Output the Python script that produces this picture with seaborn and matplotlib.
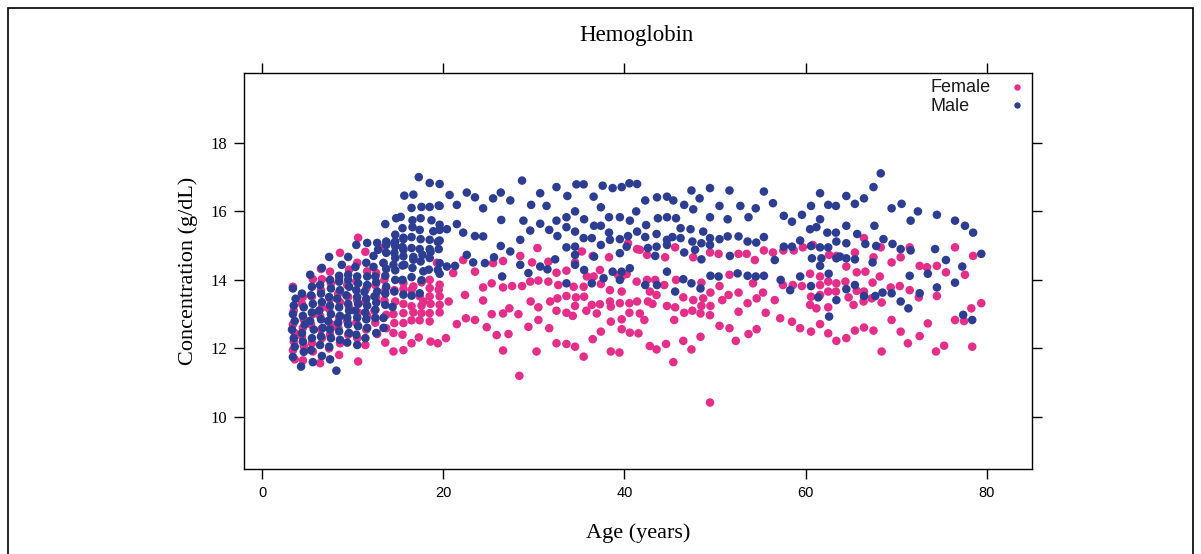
import matplotlib
matplotlib.use("Agg")
import matplotlib.pyplot as plt
import seaborn as sns
import pandas as pd
from matplotlib.lines import Line2D
from matplotlib.patches import Rectangle

# ---------------- data ----------------
female_age = [
    3.6, 3.4, 3.5, 3.6, 3.4, 3.5, 3.4,
    4.5, 4.6, 4.4, 4.5, 4.6, 4.4, 4.5,
    5.6, 5.5, 5.4, 5.6, 5.5, 5.6,
    6.4, 6.6, 6.5, 6.4, 6.6, 6.5, 6.6, 6.5,
    7.4, 7.5, 7.6, 7.4, 7.5, 7.6, 7.5,
    8.5, 8.6, 8.4, 8.5, 8.6, 8.4, 8.5, 8.6,
    9.5, 9.4, 9.6, 9.5, 9.4, 9.6,
    10.6, 10.5, 10.4, 10.6, 10.5, 10.4, 10.5, 10.6,
    11.4, 11.5, 11.6, 11.4, 11.5, 11.6, 11.4,
    12.7, 12.5, 12.4, 12.6, 12.5, 12.6,
    13.6, 13.7, 13.7, 13.5, 13.6, 13.5, 13.4, 13.3,
    14.5, 14.5, 14.6, 14.5, 14.7, 14.6,
    15.6, 15.6, 15.6, 15.6, 15.6, 15.6, 15.5,
    16.5, 16.5, 16.7, 16.5, 16.7, 16.5,
    17.3, 17.4, 17.6, 17.6, 17.8, 17.4, 17.6,
    18.6, 18.5, 18.5, 18.6, 18.5, 18.5, 18.5,
    19.4, 19.6, 19.6, 19.6, 19.5, 19.6, 19.3,
    30.4, 28.5, 22.2, 35.3, 36.5, 38.3, 40.4, 41.4, 23.5, 25.5, 26.6, 29.8,
    31.6, 34.55, 37.3, 21.1, 32.5, 33.6, 35.85, 36.6, 39.7,
    24.4, 25.35, 26.6, 27.6, 28.7, 29.6, 30.5, 31.6, 32.7, 34.4, 35.5, 37.4,
    38.4, 39.3, 40.25, 41.35, 39.7, 22.4, 20.6, 24.4, 29.65, 30.5, 31.8, 32.6,
    33.6, 34.65, 34.55, 35.55, 36.4, 37.3, 38.4, 38.5, 39.5, 40.55, 41.4,
    25.35, 26.6, 27.3, 28.3, 32.5, 33.6, 34.3, 35.8, 36.95, 40.55,
    22.5, 23.5, 24.8, 25.9, 27.2, 29.4, 30.5, 31.7, 38.5, 39.7, 39.7, 40.6,
    41.55, 37.4, 36.5, 32.5, 33.6, 34.55, 35.5, 38.5, 39.45, 26.6, 30.3,
    21.5, 20.3, 28.4,
    45.6, 44.5, 47.6, 49.45, 50.4, 52.6, 53.5, 54.4, 55.4, 56.4, 57.55, 58.7,
    59.7, 60.8, 62.6, 63.4, 42.5, 41.7, 51.6, 60.5, 61.6,
    42.5, 43.4, 44.4, 45.7, 48.5, 50.5, 54.2, 57.5, 58.6, 59.6, 61.6, 62.5,
    63.4, 42.8, 43.55, 46.5, 47.6, 48.7, 49.5, 50.8, 51.5, 52.6, 53.6, 54.6,
    55.3, 56.6, 60.6, 61.6, 62.5, 63.35, 42.6, 43.1, 44.7, 45.6, 49.5, 48.5,
    60.5, 61.2, 62.5, 41.7, 42.2, 45.5, 46.6, 47.5, 48.4, 49.45, 52.6, 55.6,
    57.2, 58.5, 59.4, 60.6, 61.6, 62.5, 63.4, 50.5, 51.6, 54.6, 53.7, 48.4,
    52.3, 46.5, 42.8, 43.55, 44.6, 47.4, 45.4, 49.45,
    66.45, 68.3, 71.5, 76.5, 65.45, 67.5, 70.5, 78.5, 69.5, 72.6, 73.4, 74.5,
    64.5, 65.65, 66.6, 75.5, 77.6, 68.2,
    64.4, 67.4, 69.4, 70.4, 71.5, 65.65, 66.45, 64.75, 66.4, 67.3, 68.4, 65.3,
    72.5, 74.5, 79.4, 78.3, 76.5, 77.5, 69.5, 73.5, 65.45, 66.45, 67.5, 64.5,
    70.5, 72.6, 71.3, 75.3, 74.4, 68.4, 78.4,
]
female_hb = [
    11.68, 11.95, 12.20, 12.45, 12.70, 13.10, 13.80,
    11.65, 12.07, 12.35, 12.60, 12.85, 13.30, 13.50,
    11.91, 12.15, 12.70, 13.00, 13.51, 14.02,
    11.57, 12.30, 12.55, 12.95, 13.20, 13.70, 14.02, 14.32,
    12.00, 12.40, 12.70, 13.15, 13.45, 13.90, 14.24,
    11.81, 12.15, 12.60, 12.90, 13.35, 13.60, 14.05, 14.79,
    12.40, 12.80, 13.20, 13.50, 13.85, 14.30,
    11.62, 12.30, 12.75, 13.05, 13.40, 13.95, 14.50, 15.23,
    12.10, 12.55, 12.95, 13.35, 13.75, 14.25, 14.82,
    12.42, 12.75, 13.10, 13.50, 13.85, 14.20,
    12.17, 12.59, 12.98, 13.40, 13.70, 14.00, 14.50, 14.93,
    11.91, 12.45, 12.74, 13.00, 13.37, 13.70,
    11.95, 12.74, 13.03, 13.30, 13.73, 13.91, 12.40,
    12.15, 12.82, 13.05, 13.23, 13.81, 13.71,
    12.32, 12.82, 13.03, 13.25, 13.37, 13.52, 13.93,
    12.20, 12.79, 13.03, 13.30, 13.52, 13.76, 14.00,
    12.15, 13.05, 13.27, 13.52, 13.71, 13.86, 14.50,
    14.93, 14.70, 14.58, 14.83, 14.70, 14.66, 15.07, 14.90, 14.24, 14.49, 14.55, 14.51,
    14.53, 14.51, 14.29, 14.20, 14.21, 14.27, 14.10, 14.10, 14.10,
    13.78, 13.90, 13.78, 13.82, 13.82, 13.95, 13.98, 13.95, 13.85, 13.80, 13.80, 13.88,
    13.70, 14.14, 14.17, 13.95, 13.66, 13.56, 13.37, 13.40, 13.37, 13.20, 13.37, 13.46,
    13.53, 13.49, 13.24, 13.51, 13.27, 13.29, 13.37, 13.22, 13.32, 13.32, 13.37,
    13.00, 13.02, 13.17, 13.00, 13.10, 13.04, 12.95, 13.10, 13.02, 13.04,
    12.88, 12.83, 12.62, 12.39, 12.42, 12.63, 12.83, 12.59, 12.78, 12.85, 12.56, 12.46,
    12.44, 12.49, 12.27, 12.15, 12.13, 12.05, 11.76, 11.91, 11.88, 11.94, 11.91,
    12.71, 12.30, 11.20,
    14.95, 14.66, 14.66, 14.80, 14.76, 14.76, 14.76, 14.58, 14.86, 14.80, 14.86, 14.86,
    14.95, 15.02, 14.73, 14.70, 14.73, 14.88, 14.15, 14.18, 14.10,
    14.00, 14.00, 13.85, 14.00, 13.92, 13.82, 13.90, 13.85, 13.85, 13.82, 13.85, 13.95,
    13.90, 13.66, 13.56, 13.49, 13.41, 13.46, 13.63, 13.41, 13.56, 13.63, 13.32, 13.46,
    13.63, 13.41, 13.51, 13.56, 13.66, 13.66, 13.37, 13.30, 13.24, 13.20, 13.24, 13.24,
    13.27, 13.17, 13.20, 13.02, 12.83, 12.83, 13.04, 13.10, 13.02, 12.97, 13.07, 13.04,
    12.88, 12.78, 12.59, 12.49, 12.71, 12.44, 12.22, 12.66, 12.59, 12.56, 12.42, 12.34,
    12.22, 12.22, 12.07, 11.97, 12.13, 11.97, 11.60, 10.42,
    15.22, 14.95, 14.95, 14.95, 14.80, 14.66, 14.66, 14.70, 14.51, 14.41, 14.37, 14.41,
    14.39, 14.22, 14.24, 14.22, 14.15, 14.10,
    13.95, 13.92, 13.78, 13.82, 13.70, 13.68, 13.66, 13.49, 13.37, 13.46, 13.34, 13.27,
    13.49, 13.53, 13.32, 13.17, 12.83, 12.80, 12.83, 12.73, 12.52, 12.61, 12.52, 12.30,
    12.49, 12.36, 12.15, 12.08, 11.91, 11.91, 12.05,
]

male_age = [
    3.4, 3.6, 3.5, 3.3, 3.6, 3.4, 3.5, 3.7, 3.4,
    4.3, 4.6, 4.5, 4.4, 4.7, 4.5, 4.6, 4.4,
    5.6, 5.4, 5.5, 5.7, 5.3, 5.5, 5.6, 5.4, 5.5, 5.3,
    6.6, 6.4, 6.5, 6.7, 6.5, 6.3, 6.6, 6.5, 6.4, 6.6,
    7.5, 7.4, 7.6, 7.5, 7.3, 7.6, 7.5, 7.4, 7.6, 7.5, 7.4,
    8.2, 8.6, 8.5, 8.4, 8.6, 8.5, 8.3, 8.6, 8.5, 8.5, 8.8,
    9.4, 9.6, 9.5, 9.4, 9.6, 9.5, 9.3, 9.6, 9.5, 9.5, 9.5,
    10.5, 10.4, 10.6, 10.5, 10.3, 10.6, 10.5, 10.4, 10.6, 10.5, 10.3, 10.4,
    11.4, 11.6, 11.5, 11.4, 11.6, 11.5, 11.3, 11.6, 11.6, 11.5, 11.6,
    12.6, 12.5, 12.5, 12.6, 12.4, 12.7, 12.6, 12.5, 12.3, 12.3, 12.8, 12.7,
    13.4, 13.4, 13.6, 13.6, 13.7, 13.6, 13.7, 13.4, 13.7, 13.7, 13.7, 13.6,
    14.4, 14.6, 14.7, 14.7, 14.5, 14.7, 14.6, 14.7, 14.7, 14.7, 14.8, 14.6,
    15.6, 15.5, 15.5, 15.6, 15.6, 15.5, 15.6, 15.6, 15.5, 15.3, 15.7, 15.7,
    16.5, 16.5, 16.6, 16.7, 16.5, 16.5, 16.6, 16.6, 16.5, 16.7, 16.7,
    17.4, 17.6, 17.8, 17.5, 17.4, 17.5, 17.4, 17.5, 17.6, 17.3, 17.7,
    18.4, 18.5, 18.5, 18.5, 18.9, 18.7, 18.5, 18.5, 18.6,
    19.6, 19.4, 19.6, 19.5, 19.6, 19.6, 19.6, 19.5, 19.6, 19.6, 19.4,
    20.7, 22.6, 23.5, 26.35, 25.5, 27.4, 21.5, 24.4, 28.7, 29.7, 30.7, 31.4,
    32.5, 33.7, 34.7, 35.5, 36.6, 37.6, 38.7, 39.7, 40.55, 41.4,
    26.4, 28.85, 30.7, 32.5, 33.6, 34.55, 35.55, 37.4, 38.3, 39.5, 40.6, 41.3,
    20.4, 21.5, 22.2, 23.5, 24.4, 29.6, 31.7, 33.6, 34.55, 36.65, 37.4, 38.3,
    39.5, 40.4, 41.4, 28.5, 32.6, 33.6, 34.55, 35.5, 36.4, 37.4, 38.4, 39.5,
    40.25, 26.35, 27.4, 22.6, 25.6, 32.35, 34.55, 36.65, 20.4, 21.3, 23.3, 24.6,
    28.5, 30.7, 31.5, 34.55, 35.55, 38.7, 40.6, 26.5, 29.4, 39.7,
    33.6, 36.4, 37.7, 39.5,
    42.3, 43.6, 44.7, 45.4, 46.6, 47.4, 48.3, 49.45, 51.6, 47.6, 50.5, 52.8,
    54.5, 55.4, 56.4, 57.6, 58.5, 59.6, 60.6, 61.6, 62.5, 63.35, 61.6,
    42.4, 43.7, 44.7, 45.7, 49.45, 51.4, 53.7, 46.2, 47.3, 48.7, 60.5, 61.2,
    62.4, 63.35, 42.3, 43.55, 44.7, 45.3, 46.2, 47.5, 48.5, 49.45, 50.5, 51.4,
    52.6, 53.6, 54.55, 55.4, 59.4, 60.6, 61.6, 62.5, 63.4, 42.6, 43.55, 44.7,
    46.6, 47.8, 49.45, 57.6, 58.5, 43.4, 48.5, 51.65, 56.6, 60.7, 61.75, 63.4,
    44.7, 61.6, 62.55, 49.5, 50.4, 53.6, 54.5, 55.4, 59.4,
    46.5, 47.4, 48.4, 52.5, 42.3, 43.6, 45.6, 57.25, 58.3, 60.6, 61.4, 63.4, 62.6,
    68.3, 67.5, 64.5, 66.45, 65.45, 69.5, 70.6, 72.4, 74.5, 71.6, 76.5, 77.6,
    78.5, 64.5, 67.6, 65.7, 68.6, 64.5, 66.6, 67.8, 69.6, 70.5, 71.6, 74.3,
    75.5, 79.4, 63.8, 64.5, 65.45, 67.4, 77.3, 71.5, 73.5,
    74.5, 76.5, 64.5, 65.45, 66.45, 67.7, 68.5, 69.5, 70.5, 71.35, 72.6, 77.4, 78.4,
]
male_hb = [
    11.75, 12.05, 12.30, 12.55, 12.80, 13.00, 13.25, 13.45, 13.75,
    11.47, 11.90, 12.20, 12.45, 12.70, 12.95, 13.20, 13.60,
    11.60, 11.95, 12.30, 12.55, 12.80, 13.05, 13.30, 13.55, 13.80, 14.15,
    11.78, 12.10, 12.35, 12.60, 12.85, 13.10, 13.35, 13.60, 13.85, 14.35,
    11.68, 12.05, 12.30, 12.55, 12.80, 13.00, 13.25, 13.50, 13.75, 14.00, 14.67,
    11.35, 12.25, 12.50, 12.75, 12.95, 13.20, 13.45, 13.70, 13.95, 14.12, 14.44,
    12.17, 12.45, 12.70, 12.90, 13.10, 13.30, 13.55, 13.80, 14.00, 14.15, 14.67,
    12.10, 12.40, 12.65, 12.90, 13.10, 13.30, 13.50, 13.70, 13.90, 14.10, 14.38, 15.02,
    12.30, 12.60, 12.85, 13.05, 13.25, 13.45, 13.65, 13.85, 14.10, 14.50, 15.08,
    12.45, 12.89, 13.13, 13.34, 13.52, 13.66, 13.93, 14.10, 14.38, 14.70, 14.88, 15.08,
    12.60, 12.89, 13.27, 13.60, 13.80, 14.12, 14.32, 14.49, 14.79, 15.02, 15.12, 15.63,
    13.21, 13.66, 14.00, 14.28, 14.44, 14.64, 14.79, 14.98, 15.12, 15.32, 15.80, 15.08,
    13.57, 14.00, 14.42, 14.69, 14.88, 14.96, 15.19, 15.23, 15.51, 15.84, 16.46, 14.44,
    13.54, 14.08, 14.35, 14.59, 14.93, 15.25, 15.54, 15.74, 16.10, 16.49, 14.67,
    13.61, 13.99, 14.25, 14.54, 14.90, 15.19, 15.46, 15.80, 16.13, 17.00, 14.73,
    14.30, 14.64, 14.90, 15.17, 15.42, 15.74, 16.13, 16.83, 14.82,
    14.18, 14.29, 14.49, 14.90, 15.15, 15.46, 15.61, 16.17, 16.80, 16.16, 15.11,
    16.48, 16.55, 16.41, 16.55, 16.38, 16.32, 16.19, 16.09, 16.90, 16.19, 16.53, 16.16,
    16.71, 16.45, 16.79, 16.79, 16.43, 16.75, 16.68, 16.71, 16.82, 16.80,
    15.75, 15.73, 15.64, 15.73, 15.83, 16.00, 15.77, 16.12, 15.83, 15.83, 15.73, 16.00,
    15.48, 15.63, 15.38, 15.28, 15.27, 15.44, 15.46, 15.54, 15.41, 15.58, 15.58, 15.38,
    15.19, 15.28, 15.41, 15.17, 15.28, 14.95, 14.97, 15.22, 15.22, 15.02, 15.17, 14.78,
    14.97, 14.99, 14.83, 14.73, 14.66, 14.60, 14.73, 14.68, 14.39, 14.41, 14.51, 14.49,
    14.44, 14.39, 14.31, 14.44, 14.29, 14.24, 14.34, 14.10, 14.20, 14.24,
    13.90, 13.90, 14.05, 14.00,
    16.32, 16.41, 16.43, 16.32, 16.19, 16.61, 16.38, 16.68, 16.61, 16.06, 16.16, 16.16,
    16.09, 16.58, 16.24, 15.87, 15.70, 15.90, 16.16, 16.53, 16.19, 16.16, 15.77,
    15.60, 15.80, 15.83, 15.80, 15.83, 15.77, 15.83, 15.51, 15.48, 15.41, 15.48, 15.54,
    15.38, 15.38, 15.25, 15.34, 15.17, 15.25, 15.22, 15.12, 15.07, 15.22, 15.19, 15.27,
    15.27, 15.12, 15.09, 15.25, 15.15, 14.99, 14.95, 14.95, 15.12, 14.93, 14.97, 15.02,
    14.80, 14.88, 15.02, 14.97, 14.97, 14.70, 14.60, 14.70, 14.58, 14.63, 14.63, 14.63,
    14.24, 14.41, 14.18, 14.12, 14.10, 14.12, 14.10, 14.12, 14.10,
    14.02, 13.90, 13.75, 14.19, 13.85, 13.85, 13.66, 14.00, 13.70, 13.82, 13.49, 13.41, 12.93,
    17.11, 16.71, 16.45, 16.38, 16.22, 16.09, 16.22, 16.00, 15.90, 15.73, 15.73, 15.58,
    15.38, 15.58, 15.58, 15.34, 15.19, 15.07, 15.05, 14.99, 15.05, 14.90, 14.86, 14.90,
    14.58, 14.76, 14.68, 14.63, 14.60, 14.51, 14.39, 14.12, 14.18,
    13.78, 13.92, 13.73, 13.85, 13.53, 13.53, 13.63, 13.61, 13.37, 13.17, 13.61, 12.98, 12.83,
]

groups = ["Female", "Male"]
colors = ["#E52E89", "#2C3D92"]
x_ticks = [0, 20, 40, 60, 80]
y_ticks = [10, 12, 14, 16, 18]

assert len(female_age) == len(female_hb)
assert len(male_age) == len(male_hb)

df = pd.concat([
    pd.DataFrame({"age": female_age, "hb": female_hb, "sex": groups[0]}),
    pd.DataFrame({"age": male_age, "hb": male_hb, "sex": groups[1]}),
], ignore_index=True)

# ---------------- figure ----------------
sns.set_theme(style="white")
plt.rcParams["font.family"] = ["Liberation Serif", "DejaVu Serif"]
SERIF = ["Liberation Serif", "DejaVu Serif"]
SANS = ["Liberation Sans", "DejaVu Sans"]

W, H = 1201, 554
fig = plt.figure(figsize=(W / 100, H / 100), dpi=100)
ax = fig.add_axes([244 / W, 1 - 469 / H, (1032 - 244) / W, (469 - 73) / H])

palette = dict(zip(groups, colors))
sns.scatterplot(data=df, x="age", y="hb", hue="sex", hue_order=groups,
                palette=palette, s=38, linewidth=0, legend=False, ax=ax)

ax.set_xlim(-2, 85)
ax.set_ylim(8.48, 20.04)
ax.set_xticks(x_ticks)
ax.set_yticks(y_ticks)
ax.set_xticklabels([str(v) for v in x_ticks], fontfamily=SANS, fontsize=10.5)
ax.set_yticklabels([str(v) for v in y_ticks], fontfamily=SERIF, fontsize=12)
ax.tick_params(axis="both", which="major", direction="out", length=7, width=1,
               color="black", bottom=True, left=True, top=True, right=True,
               labelbottom=True, labelleft=True, labeltop=False, labelright=False,
               pad=5, labelcolor="black")
for sp in ax.spines.values():
    sp.set_visible(True)
    sp.set_color("black")
    sp.set_linewidth(1.0)

ax.set_xlabel("Age (years)", fontfamily=SERIF, fontsize=16, labelpad=17, color="black")
ax.set_ylabel("Concentration (g/dL)", fontfamily=SERIF, fontsize=16, labelpad=9,
              color="black")
fig.text(636 / W, 1 - 36 / H, "Hemoglobin", ha="center", va="center",
         fontfamily=SERIF, fontsize=16.5, color="black")

# legend: left-aligned labels with the key to their right (lattice style)
for i, (g, c) in enumerate(zip(groups, colors)):
    yy = 1 - (88 + 18 * i) / H
    fig.text(930 / W, yy, g, ha="left", va="center", fontfamily=SANS,
             fontsize=13, color="#1a1a1a")
    fig.add_artist(Line2D([1017 / W], [yy + 1 / H], transform=fig.transFigure,
                          linestyle="none", marker="o", markersize=4.6,
                          markerfacecolor=c, markeredgewidth=0))

# outer frame of the image
fig.patches.append(Rectangle((8 / W, -0.01), (1193 - 8) / W, 1 - 8 / H + 0.01,
                             transform=fig.transFigure, fill=False,
                             edgecolor="black", linewidth=1.2))

fig.savefig("out.png", dpi=100)
